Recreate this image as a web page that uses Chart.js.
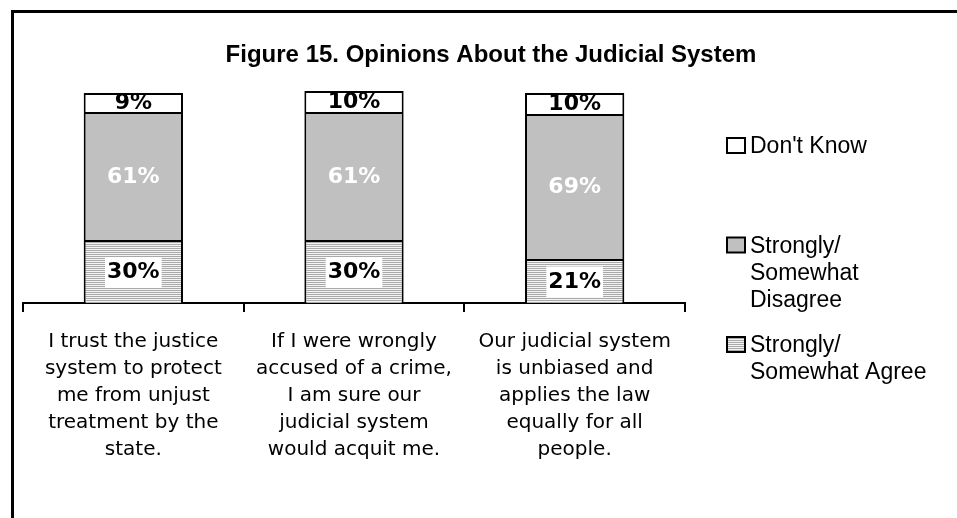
<!DOCTYPE html>
<html>
<head>
<meta charset="utf-8">
<script src="https://cdn.jsdelivr.net/npm/chart.js@4.4.1/dist/chart.umd.min.js"></script>
<style>
  html, body { margin: 0; padding: 0; background: #fff; }
  #wrap { position: relative; width: 957px; height: 518px; }
  #frame {
    position: absolute; left: 11px; top: 10px; right: 0; bottom: 0;
    border-left: 3px solid #000; border-top: 3px solid #000;
    pointer-events: none;
  }
</style>
</head>
<body>
<div id="wrap">
  <canvas id="chart" width="957" height="518"></canvas>
  <div id="frame"></div>
</div>
<script>
// data
const categories = [
  ['I trust the justice', 'system to protect', 'me from unjust', 'treatment by the', 'state.'],
  ['If I were wrongly', 'accused of a crime,', 'I am sure our', 'judicial system', 'would acquit me.'],
  ['Our judicial system', 'is unbiased and', 'applies the law', 'equally for all', 'people.']
];
const agree = [30, 30, 21];
const disagree = [61, 61, 69];
const dontKnow = [9, 10, 10];
const seriesNames = ['Strongly/ Somewhat Agree', 'Strongly/ Somewhat Disagree', "Don't Know"];
const legendLines = [
  ['Strongly/', 'Somewhat Agree'],
  ['Strongly/', 'Somewhat', 'Disagree'],
  ["Don't Know"]
];
const chartTitle = 'Figure 15. Opinions About the Judicial System';

const canvas = document.getElementById('chart');
const ctx = canvas.getContext('2d');

// horizontal stripe fill for the "agree" segments
function stripes() {
    const c = document.createElement('canvas');
    c.width = 4; c.height = 2;
    const g = c.getContext('2d');
    g.fillStyle = '#f4f4f4'; g.fillRect(0, 0, 4, 2);
    g.fillStyle = '#a9a9a9'; g.fillRect(0, 0, 4, 1);
    return ctx.createPattern(c, 'repeat');
}

// value labels inside the bar segments
const barLabels = {
    id: 'barLabels',
    afterDatasetsDraw(chart) {
        const c = chart.ctx;
        c.save();
        c.textAlign = 'center';
        c.textBaseline = 'middle';
        c.font = 'bold 22px "DejaVu Sans"';
        chart.data.datasets.forEach((ds, di) => {
            const meta = chart.getDatasetMeta(di);
            meta.data.forEach((bar, i) => {
                const p = bar.getProps(['x', 'y', 'base'], true);
                const cy = (p.y + p.base) / 2 + 1;
                const text = ds.data[i] + '%';
                if (di === 0) {
                    const w = c.measureText(text).width + 4;
                    c.fillStyle = '#fff';
                    c.fillRect(p.x - w / 2, cy - 15.5, w, 31);
                    c.fillStyle = '#000';
                } else if (di === 1) {
                    c.fillStyle = '#fff';
                } else {
                    c.fillStyle = '#000';
                }
                c.fillText(text, p.x, cy);
            });
        });
        c.restore();
    }
};

// title and right-hand legend
const sideText = {
    id: 'sideText',
    afterDraw(chart) {
        const c = chart.ctx;
        c.save();
        c.fillStyle = '#000';
        c.textBaseline = 'alphabetic';
        c.textAlign = 'center';
        c.font = 'bold 24px "Liberation Sans"';
        c.fillText(chartTitle, 491, 62);

        c.textAlign = 'left';
        c.font = '23px "Liberation Sans"';
        [2, 1, 0].forEach((di, k) => {
            const ds = chart.data.datasets[di];
            const base = 153 + k * 99.5;
            c.fillStyle = ds.backgroundColor;
            c.fillRect(727, base - 15, 18, 15);
            c.strokeStyle = '#000';
            c.lineWidth = 2;
            c.strokeRect(727, base - 15, 18, 15);
            c.fillStyle = '#000';
            legendLines[di].forEach((line, j) => {
                c.fillText(line, 750, base + j * 27);
            });
        });
        c.restore();
    }
};

new Chart(ctx, {
    type: 'bar',
    data: {
        labels: categories,
        datasets: [
            { label: seriesNames[0], data: agree, backgroundColor: stripes() },
            { label: seriesNames[1], data: disagree, backgroundColor: '#c0c0c0' },
            { label: seriesNames[2], data: dontKnow, backgroundColor: '#ffffff' }
        ].map(d => Object.assign(d, {
            borderColor: '#000',
            borderWidth: 2,
            categoryPercentage: 1,
            barPercentage: 0.45
        }))
    },
    options: {
        responsive: false,
        animation: false,
        layout: { padding: { left: 23, right: 272, top: 30, bottom: 39 } },
        plugins: {
            legend: { display: false },
            title: { display: false },
            tooltip: { enabled: false }
        },
        scales: {
            x: {
                stacked: true,
                border: { display: true, color: '#000', width: 2 },
                grid: {
                    offset: true,
                    drawOnChartArea: false,
                    color: '#000',
                    lineWidth: 2,
                    tickLength: 9
                },
                ticks: {
                    color: '#000',
                    autoSkip: false,
                    maxRotation: 0,
                    padding: 16,
                    font: { family: 'DejaVu Sans', size: 20, lineHeight: 1.35 }
                }
            },
            y: {
                stacked: true,
                display: false,
                min: 0,
                max: 130
            }
        }
    },
    plugins: [barLabels, sideText]
});
</script>
</body>
</html>
